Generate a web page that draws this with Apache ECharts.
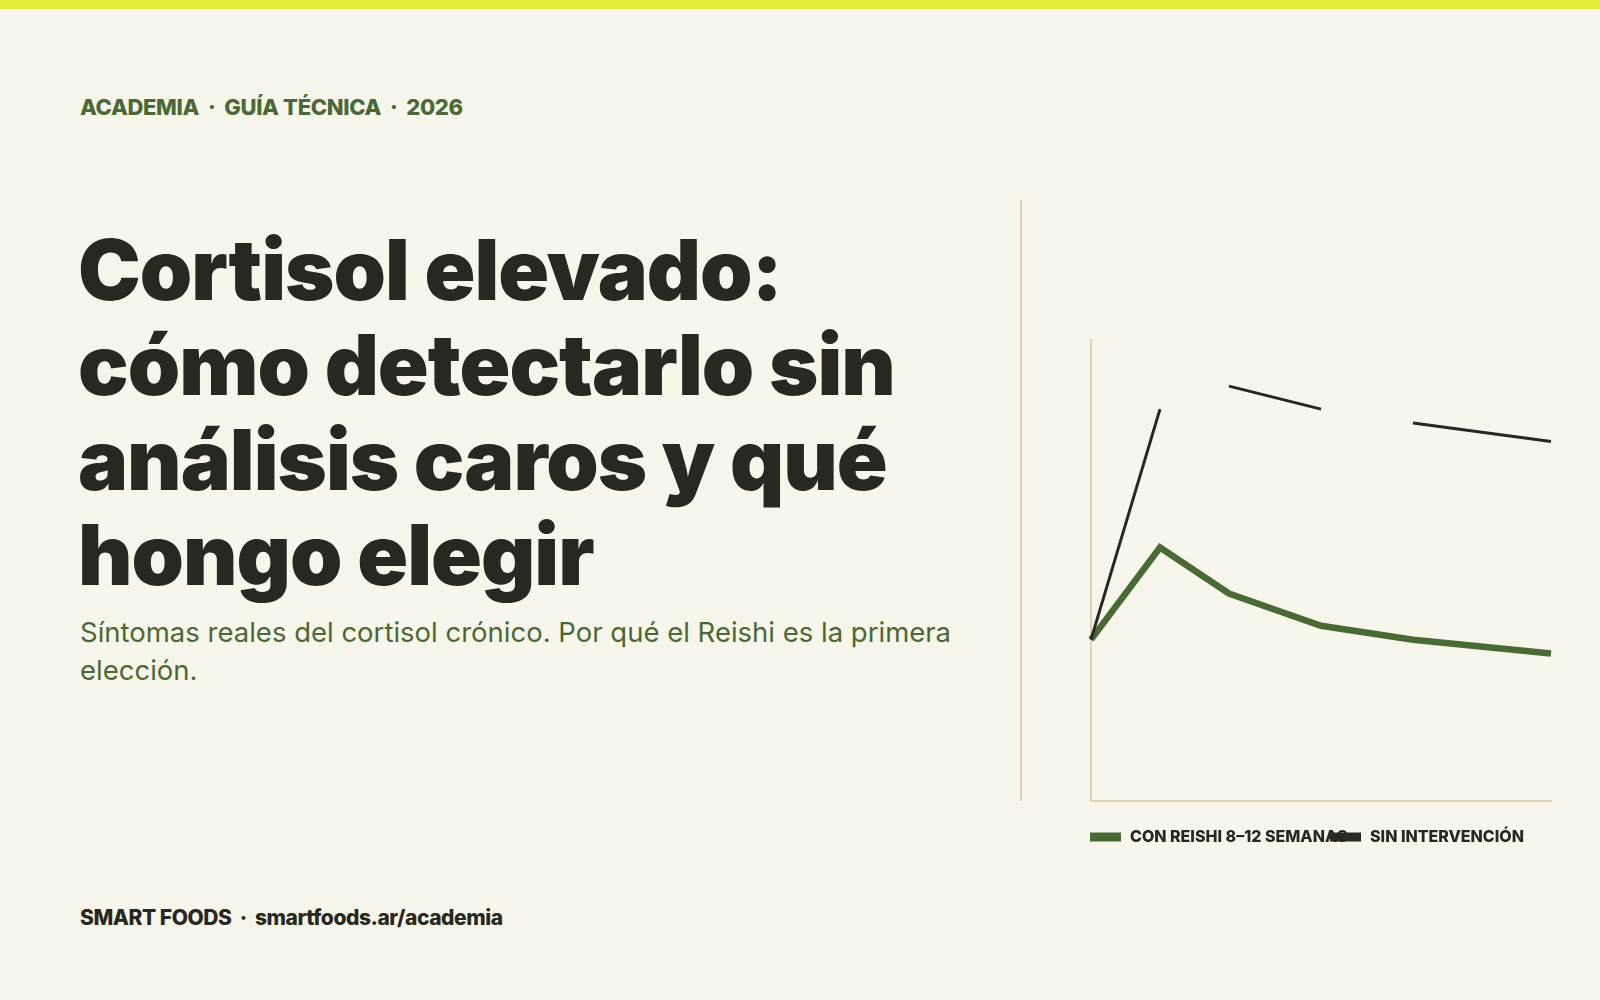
<!DOCTYPE html>
<html>
<head>
<meta charset="utf-8">
<script src="https://cdn.jsdelivr.net/npm/echarts@6/dist/echarts.min.js"></script>
<style>
  html, body { margin: 0; padding: 0; }
  body { width: 1600px; height: 1000px; background: #f8f5eb; position: relative; overflow: hidden; font-family: Inter, "Noto Sans", sans-serif; }
  #topbar { position: absolute; left: 0; top: 0; width: 1600px; height: 9px; background: #e2ea3a; }
  #kicker { position: absolute; left: 80px; top: 94px; font-size: 22px; font-weight: 800; color: #4a6a35; letter-spacing: -0.35px; white-space: pre; }
  #title { position: absolute; left: 78px; top: 222px; font-size: 84px; font-weight: 900; line-height: 95px; color: #272822; letter-spacing: -1.0px; }
  #sub { position: absolute; left: 80px; top: 613px; font-size: 27.5px; font-weight: 400; line-height: 38px; color: #4a6a35; }
  #footer { position: absolute; left: 80px; top: 905px; font-size: 21px; font-weight: 800; color: #272822; letter-spacing: -0.45px; white-space: pre; }
  #divider { position: absolute; left: 1020px; top: 200px; width: 2px; height: 601px; background: #ddd3b6; }
  #chart { position: absolute; left: 1022px; top: 200px; width: 578px; height: 680px; }
</style>
</head>
<body>
<div id="topbar"></div>
<div id="kicker">ACADEMIA  ·  GUÍA TÉCNICA  ·  2026</div>
<div id="title">Cortisol elevado:<br>cómo detectarlo sin<br>análisis caros y qué<br>hongo elegir</div>
<div id="sub">Síntomas reales del cortisol crónico. Por qué el Reishi es la primera<br>elección.</div>
<div id="footer">SMART FOODS  ·  smartfoods.ar/academia</div>
<div id="divider"></div>
<div id="chart"></div>
<script>
// Data
const weeks = [0, 1.5, 3, 5, 7, 10];
const conReishi = [35, 55, 45, 38, 35, 32];
const sinIntervencion = [35, 85, 90, 85, 82, 78];
// segments of the "sin intervención" line that are visible in the reference
const visibleSegments = [[0, 1], [2, 3], [4, 5]];
const seriesNames = ['CON REISHI 8–12 SEMANAS', 'SIN INTERVENCIÓN'];

const green = '#4a6a35';
const dark = '#272822';
const axisColor = '#ddd3b6';

const reishiData = weeks.map((w, i) => [w, conReishi[i]]);
const sinData = [];
visibleSegments.forEach((seg, k) => {
  if (k > 0) sinData.push([weeks[seg[0]], '-']);
  for (let i = seg[0]; i <= seg[1]; i++) sinData.push([weeks[i], sinIntervencion[i]]);
});

const chart = echarts.init(document.getElementById('chart'), null, { renderer: 'canvas' });
const legendText = { color: dark, fontFamily: 'Inter', fontWeight: 800, fontSize: 16, letterSpacing: -0.3, padding: [0, 0, 0, 4] };
chart.setOption({
  animation: false,
  grid: { left: 69, right: 49, top: 140, bottom: 79 },
  xAxis: {
    type: 'value', min: 0, max: 10,
    axisLine: { show: true, lineStyle: { color: axisColor, width: 2 } },
    axisTick: { show: false }, axisLabel: { show: false }, splitLine: { show: false }
  },
  yAxis: {
    type: 'value', min: 0, max: 100,
    axisLine: { show: true, lineStyle: { color: axisColor, width: 2 } },
    axisTick: { show: false }, axisLabel: { show: false }, splitLine: { show: false }
  },
  legend: [
    { data: [seriesNames[0]], left: 68, top: 629, icon: 'rect', itemWidth: 31, itemHeight: 9, itemGap: 0, textStyle: legendText, padding: 0 },
    { data: [seriesNames[1]], left: 308, top: 629, icon: 'rect', itemWidth: 31, itemHeight: 9, itemGap: 0, textStyle: legendText, padding: 0 }
  ],
  series: [
    { name: seriesNames[0], type: 'line', data: reishiData, showSymbol: false, symbol: 'none',
      itemStyle: { color: green }, lineStyle: { color: green, width: 6.5, join: 'miter' } },
    { name: seriesNames[1], type: 'line', data: sinData, showSymbol: false, symbol: 'none', connectNulls: false,
      itemStyle: { color: dark }, lineStyle: { color: dark, width: 3 } }
  ]
});
</script>
</body>
</html>
